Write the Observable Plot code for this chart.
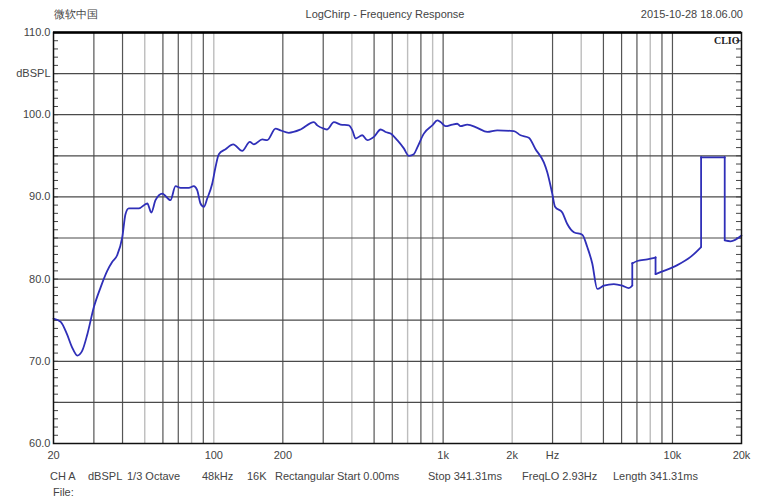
<!DOCTYPE html>
<html>
<head>
<meta charset="utf-8">
<script src="https://cdn.jsdelivr.net/npm/d3@7"></script>
<script src="https://cdn.jsdelivr.net/npm/@observablehq/plot@0.6"></script>
<style>
  body { margin: 0; background: #fff; font-family: "Liberation Sans", Arial, sans-serif; }
  #wrap { position: relative; width: 764px; height: 500px; overflow: hidden; }
  .t { position: absolute; font-size: 11px; color: #444; white-space: nowrap; line-height: 14px; }
  #chart { position: absolute; left: 0; top: 26px; }
</style>
</head>
<body>
<div id="wrap"><div id="chart"></div></div>
<script>
// ---- header / footer texts ----
const headerLeft = "微软中国";
const headerTitle = "LogChirp - Frequency Response";
const headerDate = "2015-10-28 18.06.00";
const footerItems = ["CH A", "dBSPL", "1/3 Octave", "48kHz", "16K", "Rectangular",
  "Start 0.00ms", "Stop 341.31ms", "FreqLO 2.93Hz", "Length 341.31ms"];
const fileLabel = "File:";
const brandLabel = "CLIO";

// ---- measured curve (Hz, dB SPL) ----
const freqHz = [20, 21.5, 22.9, 24.1, 25.4, 26.7, 28.1, 30.0, 32.1, 34.3, 36.1, 37.9, 39.9, 41.2, 42.6,
  47.1, 51.3, 53.4, 55.7, 59.6, 64.7, 68.1, 71.6, 77.8, 81.8, 84.7, 87.5, 90.5, 93.6, 98.4,
  101.7, 105.2, 112.5, 121.5, 133, 143.6, 149.5, 162.7, 171, 185.9, 195.4, 212.4, 239, 273,
  282.5, 302, 312, 334, 357, 388, 402, 415, 444, 467, 499, 534, 561, 590, 631, 674, 709, 745,
  771, 824, 897, 943, 974, 1025, 1096, 1152, 1191, 1274, 1409, 1558, 1722, 2034, 2176, 2364,
  2529, 2749, 2845, 2991, 3076, 3308, 3478, 3716, 4043, 4251, 4470, 4700, 5022, 5552, 6042,
  6456, 6680, 6680, 7024, 7768, 8438, 8438, 9172, 10496, 11995, 13330, 13330, 16900, 16900,
  17926, 20000];
const splDb = [75.2, 74.8, 73.3, 71.7, 70.7, 71.3, 73.3, 76.6, 79.0, 81.0, 82.1, 82.9, 85.1, 87.9, 88.6,
  88.6, 89.2, 88.1, 89.6, 90.4, 89.6, 91.3, 91.1, 91.1, 91.3, 90.8, 89.2, 88.8, 89.8, 91.6,
  93.6, 95.2, 95.8, 96.4, 95.6, 96.7, 96.4, 97.0, 96.9, 98.3, 98.1, 97.8, 98.2, 99.1,
  98.7, 98.3, 98.2, 99.1, 98.8, 98.7, 98.1, 97.1, 97.5, 96.9, 97.3, 98.2, 97.9, 97.7, 96.9, 95.9, 95.0, 95.2,
  96.0, 97.7, 98.7, 99.3, 99.1, 98.6, 98.8, 98.9, 98.6, 98.8, 98.4, 97.9, 98.1, 98.0, 97.5, 97.2,
  95.8, 94.2, 93.0, 90.4, 88.8, 88.1, 86.7, 85.7, 85.4, 83.9, 81.9, 78.8, 79.2, 79.4, 79.2,
  78.9, 79.2, 81.9, 82.2, 82.4, 82.6, 80.6, 81.0, 81.7, 82.7, 83.9, 94.8, 94.8, 84.7,
  84.6, 85.3];

// ---- axes ----
const xTickValues = [20, 50, 100, 200, 500, 1000, 2000, 3000, 5000, 10000, 20000];
const xTickLabels = ["20", "50", "100", "200", "500", "1k", "2k", "Hz", "5k", "10k", "20k"];
const yTickValues = [60, 70, 80, 90, 100, 105, 110];
const yTickLabels = ["60.0", "70.0", "80.0", "90.0", "100.0", "dBSPL", "110.0"];
const gridFreqs = [30, 40, 50, 60, 70, 80, 90, 100, 200, 300, 400, 500, 600, 700, 800, 900,
  1000, 2000, 3000, 4000, 5000, 6000, 7000, 8000, 9000, 10000];
const lightGridFreqs = [50, 80, 100, 400, 700, 900, 2000, 4000, 8000];
const gridDb = [65, 70, 75, 80, 85, 90, 95, 100, 105];
const minorDb = d3.range(61, 110);

// split the curve into smooth pieces at the vertical steps
let seg = 0;
const data = freqHz.map((f, i) => {
  if (i > 0 && f === freqHz[i - 1]) seg++;
  return { f, db: splDb[i], seg };
});
const steps = [];
for (let i = 1; i < freqHz.length; i++) {
  if (freqHz[i] === freqHz[i - 1]) steps.push({ f: freqHz[i], y1: splDb[i - 1], y2: splDb[i] });
}
const darkGrid = gridFreqs.filter(d => !lightGridFreqs.includes(d));
const lightGrid = gridFreqs.filter(d => lightGridFreqs.includes(d));
const lineColor = "#2f2fb8";

const chart = Plot.plot({
  width: 764,
  height: 444,
  marginTop: 6,
  marginBottom: 27,
  marginLeft: 53,
  marginRight: 23,
  style: { fontFamily: "'Liberation Sans', Arial, sans-serif", fontSize: "11px", color: "#444", background: "#fff" },
  x: { type: "log", domain: [20, 20000] },
  y: { domain: [60, 110] },
  marks: [
    Plot.ruleX(lightGrid, { stroke: "#bdbdbd", strokeWidth: 1.4 }),
    Plot.ruleX(darkGrid, { stroke: "#555", strokeWidth: 1.2 }),
    Plot.ruleY(gridDb, { stroke: "#4a4a4a", strokeWidth: 1.2 }),
    Plot.tickY(minorDb, { insetRight: 683, stroke: "#444" }),
    Plot.tickY(minorDb, { insetLeft: 683, stroke: "#444" }),
    Plot.line(data, { x: "f", y: "db", z: "seg", stroke: lineColor, strokeWidth: 1.8, curve: "monotone-x" }),
    Plot.ruleX(steps, { x: "f", y1: "y1", y2: "y2", stroke: lineColor, strokeWidth: 1.8, strokeLinecap: "round" }),
    Plot.frame({ stroke: "#111", strokeWidth: 1.5 }),
    Plot.ruleY([110], { stroke: "#000", strokeWidth: 2.5 }),
    Plot.axisX(xTickValues, {
      tickFormat: d => xTickLabels[xTickValues.indexOf(d)],
      tickSize: 0, tickPadding: 8, label: null
    }),
    Plot.axisY(yTickValues, {
      tickFormat: d => yTickLabels[yTickValues.indexOf(d)],
      tickSize: 0, tickPadding: 3, label: null
    }),
    Plot.text([brandLabel], {
      frameAnchor: "top-right", dx: -2, dy: 4,
      fontFamily: "'Liberation Serif', serif", fontWeight: "bold", fontSize: 10, fill: "#222"
    })
  ]
});
document.getElementById("chart").appendChild(chart);

// header and footer (HTML text above / below the SVG)
const wrap = document.getElementById("wrap");
function addText(txt, style) {
  const s = document.createElement("span");
  s.className = "t";
  s.textContent = txt;
  Object.assign(s.style, style);
  wrap.appendChild(s);
  return s;
}
addText(headerLeft, { left: "54px", top: "7px" });
addText(headerTitle, { left: "385px", top: "7px", transform: "translateX(-50%)" });
addText(headerDate, { right: "21px", top: "7px" });
const footerX = [50, 88, 127, 202, 247, 275, 337, 428, 522, 613];
footerItems.forEach((t, i) => addText(t, { left: footerX[i] + "px", top: "469px" }));
addText(fileLabel, { left: "53px", top: "485px" });
</script>
</body>
</html>
